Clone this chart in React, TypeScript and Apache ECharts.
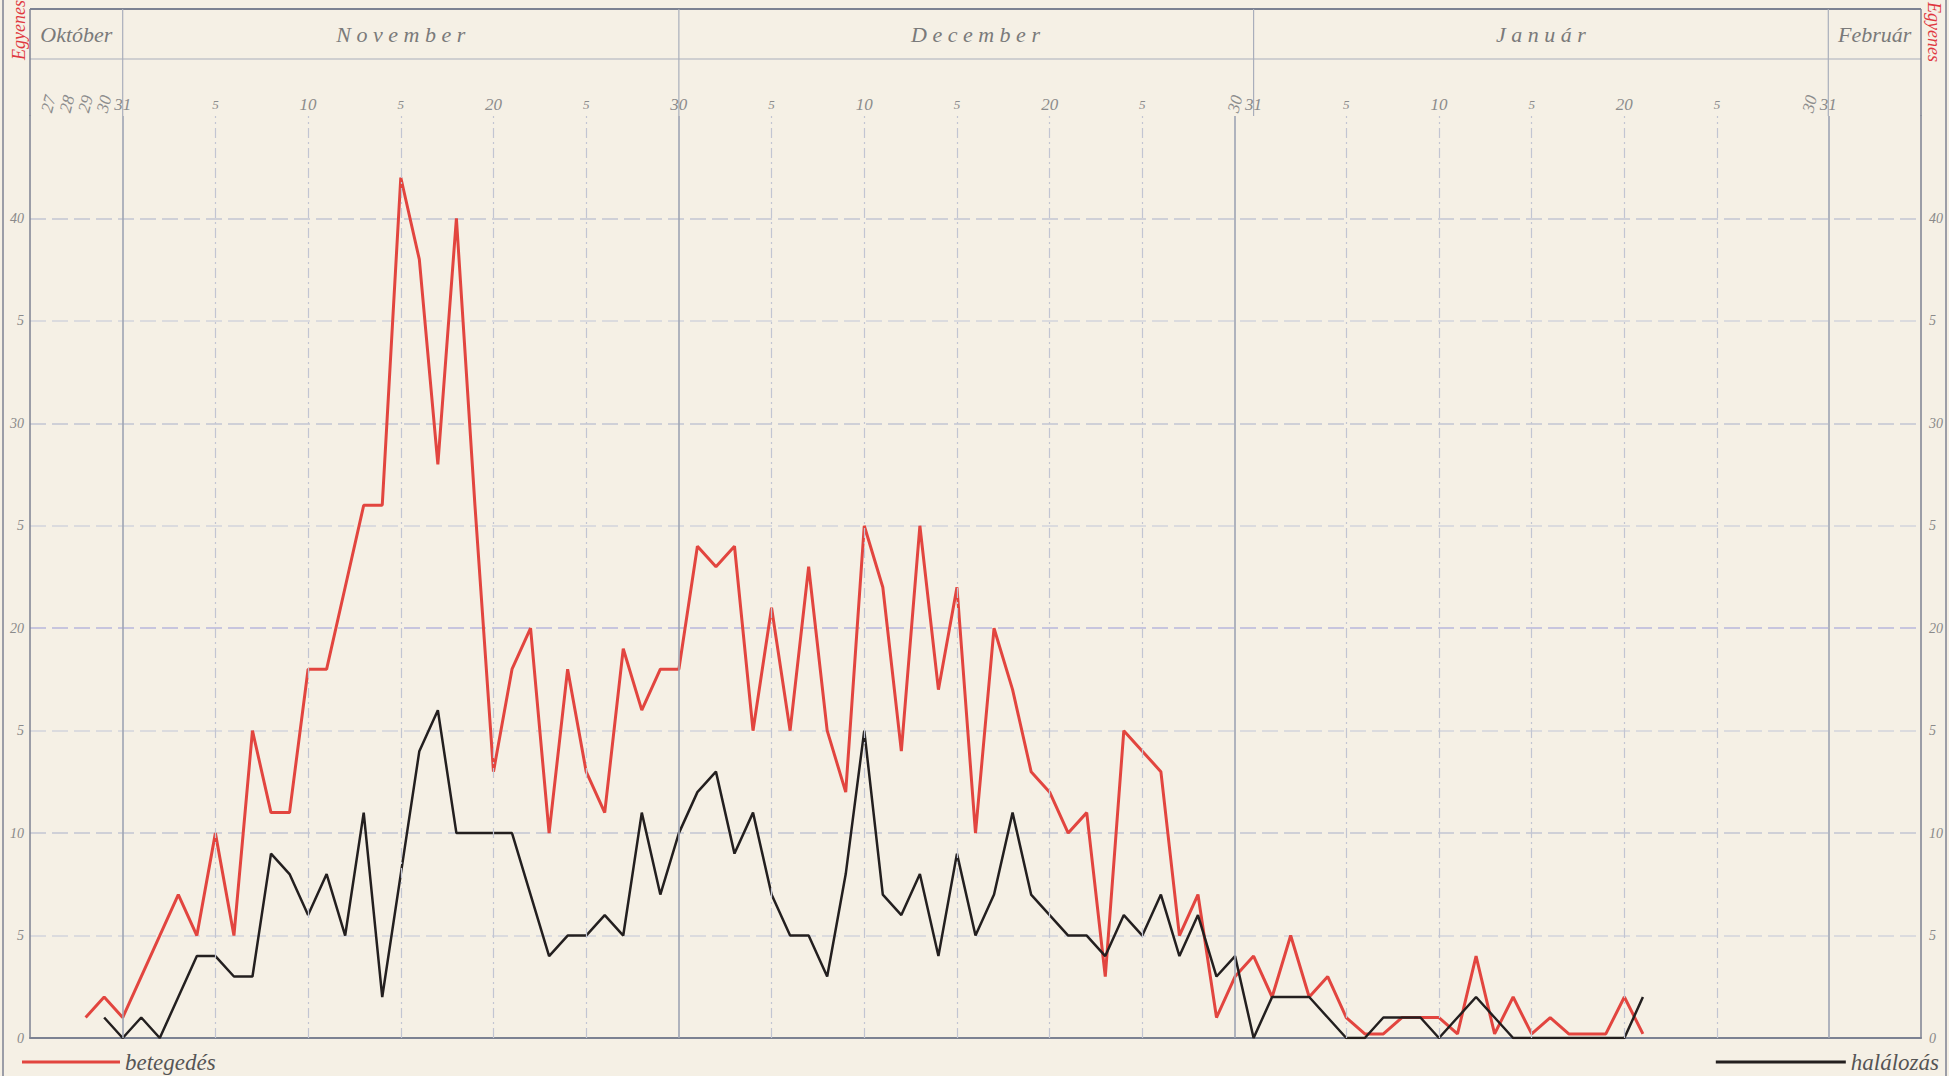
import React, { useEffect, useRef } from "react";
import * as echarts from "echarts";

const W = 1949;
const H = 1076;

// Day index 0 = 26 October; month ends: Oct 31 = 5, Nov 30 = 35, Dec 31 = 66, Jan 31 = 97
const dayMin = 0;
const dayMax = 102;

const monthNames = ["Október", "N o v e m b e r", "D e c e m b e r", "J a n u á r", "Február"];
const monthNameDays = [2.5, 20, 51, 81.5, 99.5];
const monthEndDays = [5, 35, 66, 97];
const plotMonthLines = [5, 35, 65, 97];
const fiveDayLines = [10, 15, 20, 25, 30, 40, 45, 50, 55, 60, 71, 76, 81, 86, 91];

const dayTickDays = [1, 2, 3, 4, 5, 10, 15, 20, 25, 30, 35, 40, 45, 50, 55, 60, 65, 66, 71, 76, 81, 86, 91, 96, 97];
const dayTickLabels = ["27", "28", "29", "30", "31", "5", "10", "5", "20", "5", "30", "5", "10", "5", "20", "5", "30", "31", "5", "10", "5", "20", "5", "30", "31"];
const dayTickRotated = [1, 1, 1, 1, 0, 0, 0, 0, 0, 0, 0, 0, 0, 0, 0, 0, 1, 0, 0, 0, 0, 0, 0, 1, 0];

const yTickValues = [0, 5, 10, 15, 20, 25, 30, 35, 40, 45];
const yTickLabels = ["0", "5", "10", "5", "20", "5", "30", "5", "40", ""];

// betegedés (red), starting 29 October (day index 3)
const betegedesStart = 3;
const betegedes = [
  1, 2, 1, 3, 5, 7, 5, 10, 5, 15,
  11, 11, 18, 18, 22, 26, 26, 42, 38, 28,
  40, 26, 13, 18, 20, 10, 18, 13, 11, 19,
  16, 18, 18, 24, 23, 24, 15, 21, 15, 23,
  15, 12, 25, 22, 14, 25, 17, 22, 10, 20,
  17, 13, 12, 10, 11, 3, 15, 14, 13, 5,
  7, 1, 3, 4, 2, 5, 2, 3, 1, 0.2,
  0.2, 1, 1, 1, 0.2, 4, 0.2, 2, 0.2, 1,
  0.2, 0.2, 0.2, 2, 0.2,
];

// halálozás (black), starting 30 October (day index 4)
const halalozasStart = 4;
const halalozas = [
  1, 0, 1, 0, 2, 4, 4, 3, 3, 9,
  8, 6, 8, 5, 11, 2, 8, 14, 16, 10,
  10, 10, 10, 7, 4, 5, 5, 6, 5, 11,
  7, 10, 12, 13, 9, 11, 7, 5, 5, 3,
  8, 15, 7, 6, 8, 4, 9, 5, 7, 11,
  7, 6, 5, 5, 4, 6, 5, 7, 4, 6,
  3, 4, 0, 2, 2, 2, 1, 0, 0, 1,
  1, 1, 0, 1, 2, 1, 0, 0, 0, 0,
  0, 0, 0, 2,
];

const RED = "#e2453f";
const BLACK = "#231f1f";
const GRID_FAINT = "#d2d3dc";
const GRID_MID = "#c2c5d2";
const GRID_BLUE = "#b8b7dc";
const AXIS = "#7c8292";
const SERIF = "'Liberation Serif', 'DejaVu Serif', serif";

export default function App() {
  const ref = useRef<HTMLDivElement>(null);

  useEffect(() => {
    if (!ref.current) return;
    const chart = echarts.init(ref.current, undefined, { renderer: "svg" });

    const redData = betegedes.map((v, i) => [betegedesStart + i, v]);
    const blackData = halalozas.map((v, i) => [halalozasStart + i, v]);

    const yLabel = (v: number) => {
      const i = yTickValues.indexOf(v);
      return i >= 0 ? yTickLabels[i] : "";
    };

    const splitColors = yTickValues.map((v) =>
      v === 0 || v === 45 ? "rgba(0,0,0,0)" : v === 20 ? GRID_BLUE : v % 10 === 0 ? GRID_MID : GRID_FAINT
    );

    const axisLabelStyle = {
      fontStyle: "italic" as const,
      fontFamily: SERIF,
      fontSize: 14,
      color: "#8a8a8a",
    };

    const legendText = {
      fontStyle: "italic" as const,
      fontFamily: SERIF,
      fontSize: 23,
      lineHeight: 24,
      color: "#555",
    };

    chart.setOption({
      animation: false,
      backgroundColor: "#f5f0e5",
      grid: { left: 30, right: 28, top: 116, bottom: 38 },
      xAxis: {
        type: "value",
        min: dayMin,
        max: dayMax,
        axisLine: { show: true, lineStyle: { color: AXIS, width: 2 } },
        axisTick: { show: false },
        axisLabel: { show: false },
        splitLine: { show: false },
      },
      yAxis: [
        {
          type: "value",
          min: 0,
          max: 45,
          interval: 5,
          position: "left",
          axisLine: { show: true, lineStyle: { color: AXIS, width: 1.5 } },
          axisTick: { show: false },
          axisLabel: { ...axisLabelStyle, margin: 6, formatter: yLabel },
          splitLine: {
            show: true,
            lineStyle: { color: splitColors, width: 1.5, type: [16, 6] },
          },
        },
        {
          type: "value",
          min: 0,
          max: 45,
          interval: 5,
          position: "right",
          axisLine: { show: true, lineStyle: { color: AXIS, width: 1.5 } },
          axisTick: { show: false },
          axisLabel: { ...axisLabelStyle, margin: 8, formatter: yLabel },
          splitLine: { show: false },
        },
      ],
      legend: [
        {
          data: ["betegedés"],
          left: 22,
          top: 1050,
          padding: 0,
          icon: "rect",
          itemWidth: 98,
          itemHeight: 3,
          selectedMode: false,
          textStyle: legendText,
        },
        {
          data: ["halálozás"],
          right: 10,
          top: 1050,
          padding: 0,
          icon: "rect",
          itemWidth: 130,
          itemHeight: 3,
          selectedMode: false,
          textStyle: legendText,
        },
      ],
      series: [
        {
          name: "grid",
          type: "line",
          data: [],
          silent: true,
          markLine: {
            silent: true,
            symbol: ["none", "none"],
            label: { show: false },
            data: [
              ...fiveDayLines.map((d) => ({
                xAxis: d,
                lineStyle: { color: GRID_MID, width: 1.2, type: [10, 4, 2, 4] },
              })),
              ...plotMonthLines.map((d) => ({
                xAxis: d,
                lineStyle: { color: "#9ea4b3", width: 1.6, type: "solid" },
              })),
            ],
          },
        },
        {
          name: "betegedés",
          type: "line",
          data: redData,
          showSymbol: false,
          symbol: "none",
          lineStyle: { color: RED, width: 3 },
          itemStyle: { color: RED },
          z: 3,
        },
        {
          name: "halálozás",
          type: "line",
          data: blackData,
          showSymbol: false,
          symbol: "none",
          lineStyle: { color: BLACK, width: 2.5 },
          itemStyle: { color: BLACK },
          z: 4,
        },
      ],
    });

    const px = (d: number) => chart.convertToPixel({ xAxisIndex: 0 }, d) as number;
    const left = px(dayMin);
    const right = px(dayMax);
    const headerTop = 9;
    const headerMid = 59;
    const headerBottom = 116;
    const lineStyle = { stroke: AXIS, lineWidth: 1.5 };
    const faintLine = { stroke: "#a9aebb", lineWidth: 1.2 };

    const graphic: any[] = [
      { type: "line", shape: { x1: 3, y1: 0, x2: 3, y2: H }, style: lineStyle, silent: true },
      { type: "line", shape: { x1: W - 3, y1: 0, x2: W - 3, y2: H }, style: lineStyle, silent: true },
      { type: "line", shape: { x1: left, y1: headerTop, x2: right, y2: headerTop }, style: { stroke: AXIS, lineWidth: 2 }, silent: true },
      { type: "line", shape: { x1: left, y1: headerMid, x2: right, y2: headerMid }, style: faintLine, silent: true },
      { type: "line", shape: { x1: left, y1: headerTop, x2: left, y2: headerBottom }, style: lineStyle, silent: true },
      { type: "line", shape: { x1: right, y1: headerTop, x2: right, y2: headerBottom }, style: lineStyle, silent: true },
      ...monthEndDays.map((d) => ({
        type: "line",
        shape: { x1: px(d), y1: headerTop, x2: px(d), y2: headerBottom },
        style: faintLine,
        silent: true,
      })),
      ...monthNames.map((name, i) => ({
        type: "text",
        x: px(monthNameDays[i]),
        y: 34,
        silent: true,
        style: {
          text: name,
          textAlign: "center",
          textVerticalAlign: "middle",
          font: `italic 22px ${SERIF}`,
          fill: "#7a7a7a",
        },
      })),
      ...dayTickDays.map((d, i) => ({
        type: "text",
        x: px(d),
        y: 104,
        rotation: dayTickRotated[i] ? Math.PI * 0.42 : 0,
        silent: true,
        style: {
          text: dayTickLabels[i],
          textAlign: "center",
          textVerticalAlign: "middle",
          font: `italic ${dayTickLabels[i].length > 1 ? 17 : 13}px ${SERIF}`,
          fill: "#8c8c8c",
        },
      })),
      {
        type: "text",
        x: 19,
        y: 60,
        rotation: Math.PI / 2,
        silent: true,
        style: {
          text: "Egyenes",
          textAlign: "left",
          textVerticalAlign: "middle",
          font: `italic 18px ${SERIF}`,
          fill: "#e0383f",
        },
      },
      {
        type: "text",
        x: W - 15,
        y: 2,
        rotation: -Math.PI / 2,
        silent: true,
        style: {
          text: "Egyenes",
          textAlign: "left",
          textVerticalAlign: "middle",
          font: `italic 18px ${SERIF}`,
          fill: "#e0383f",
        },
      },
    ];

    chart.setOption({ graphic });

    return () => chart.dispose();
  }, []);

  return (
    <div
      ref={ref}
      style={{ position: "fixed", left: 0, top: 0, width: W, height: H, background: "#f5f0e5" }}
    />
  );
}
